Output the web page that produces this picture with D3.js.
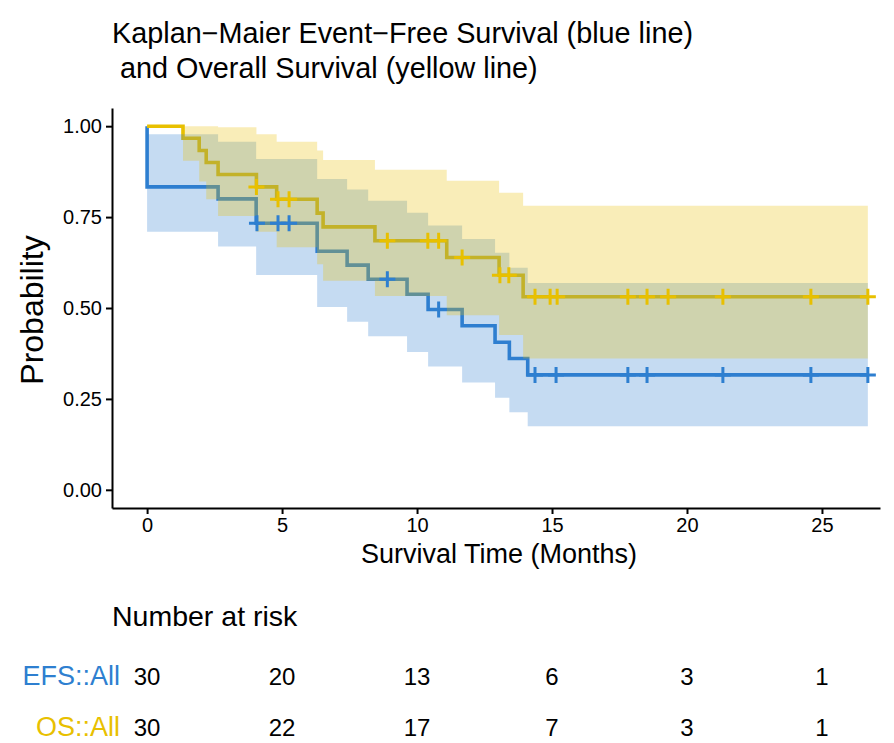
<!DOCTYPE html>
<html>
<head>
<meta charset="utf-8">
<script src="https://cdn.jsdelivr.net/npm/d3@7"></script>
<style>
body { margin: 0; background: #fff; }
text { font-family: "Liberation Sans", Arial, Helvetica, sans-serif; }
</style>
</head>
<body>
<div id="chart"></div>
<script>
// EFS (blue line): step times, KM estimate, 95% band
var efsTime  = [0, 2.63, 4.04, 6.3, 7.41, 8.19, 9.63, 10.41, 11.67, 12.89, 13.42, 14.1];
var efsSurv  = [0.833, 0.800, 0.733, 0.656, 0.618, 0.579, 0.538, 0.496, 0.451, 0.406, 0.361, 0.316];
var efsUpper = [0.978, 0.957, 0.910, 0.855, 0.826, 0.795, 0.762, 0.727, 0.690, 0.652, 0.611, 0.569];
var efsLower = [0.710, 0.669, 0.591, 0.503, 0.462, 0.422, 0.379, 0.339, 0.295, 0.253, 0.213, 0.175];
var efsCensor = [4.07, 4.85, 5.26, 8.9, 10.8, 14.37, 15.15, 17.81, 18.52, 21.33, 24.59, 26.7];

// OS (yellow line)
var osTime  = [1.33, 1.93, 2.19, 2.63, 4.05, 4.8, 6.3, 6.52, 8.44, 11.1, 13.04, 13.93];
var osSurv  = [0.967, 0.933, 0.900, 0.867, 0.833, 0.799, 0.761, 0.723, 0.685, 0.639, 0.590, 0.531];
var osUpper = [1.000, 1.000, 1.000, 0.997, 0.978, 0.957, 0.933, 0.907, 0.880, 0.850, 0.817, 0.781];
var osLower = [0.905, 0.848, 0.799, 0.753, 0.710, 0.667, 0.620, 0.575, 0.533, 0.480, 0.426, 0.361];
var osCensor = [4.05, 4.85, 5.26, 8.9, 10.4, 10.8, 11.67, 13.07, 13.4, 14.37, 14.93, 15.19, 17.81, 18.52, 19.3, 21.33, 24.59, 26.7];

var endTime = 26.7;

// number at risk table
var riskTimes = [0, 5, 10, 15, 20, 25];
var efsRisk = [30, 20, 13, 6, 3, 1];
var osRisk  = [30, 22, 17, 7, 3, 1];

var xTicks = [0, 5, 10, 15, 20, 25];
var yTicks = [0, 0.25, 0.5, 0.75, 1];

var blue = "#2E7FD0", yellow = "#E8C000";

var width = 894, height = 743;

var svg = d3.select("#chart")
    .append("svg")
    .attr("width", width)
    .attr("height", height);

var x = d3.scaleLinear().domain([-1.3, 27.15]).range([112, 880]);
var y = d3.scaleLinear().domain([-0.05, 1.05]).range([508, 108]);

// build step points starting at S=1
function steps(time, surv, upper, lower) {
    var pts = [{t: 0, s: 1, u: 1, l: 1}];
    time.forEach(function(t, i) {
        pts.push({t: t, s: surv[i], u: upper[i], l: lower[i]});
    });
    var last = pts[pts.length - 1];
    pts.push({t: endTime, s: last.s, u: last.u, l: last.l});
    return pts;
}

function survAt(pts, t) {
    var s = 1;
    pts.forEach(function(p) { if (p.t <= t) s = p.s; });
    return s;
}

var efs = steps(efsTime, efsSurv, efsUpper, efsLower);
var os = steps(osTime, osSurv, osUpper, osLower);

var line = d3.line()
    .curve(d3.curveStepAfter)
    .x(d => x(d.t))
    .y(d => y(d.s));

var band = d3.area()
    .curve(d3.curveStepAfter)
    .x(d => x(d.t))
    .y0(d => y(d.l))
    .y1(d => y(d.u));

// lines first, the bands sit on top of them
svg.append("path").datum(efs)
    .attr("d", line)
    .attr("fill", "none")
    .attr("stroke", blue)
    .attr("stroke-width", 3.6);
svg.append("path").datum(os)
    .attr("d", line)
    .attr("fill", "none")
    .attr("stroke", yellow)
    .attr("stroke-width", 3.6);

svg.append("path").datum(efs)
    .attr("d", band)
    .attr("fill", blue)
    .attr("fill-opacity", 0.28);
svg.append("path").datum(os)
    .attr("d", band)
    .attr("fill", yellow)
    .attr("fill-opacity", 0.28);

// censor marks
function censors(times, pts, col) {
    svg.append("g")
        .selectAll("path")
        .data(times)
        .enter()
        .append("path")
        .attr("transform", d => "translate(" + x(d) + "," + y(survAt(pts, d)) + ")")
        .attr("d", "M-8,0H8M0,-8V8")
        .attr("stroke", col)
        .attr("stroke-width", 3);
}
censors(efsCensor, efs, blue);
censors(osCensor, os, yellow);

// axes
var yAxis = svg.append("g")
    .attr("transform", "translate(112,0)")
    .call(d3.axisLeft(y).tickValues(yTicks).tickFormat(d3.format(".2f")).tickSize(6).tickSizeOuter(0));
var xAxis = svg.append("g")
    .attr("transform", "translate(0,508)")
    .call(d3.axisBottom(x).tickValues(xTicks).tickSize(6).tickSizeOuter(0));

[xAxis, yAxis].forEach(function(a) {
    a.attr("font-size", null).attr("font-family", null);
    a.selectAll("path, line").attr("stroke", "#000").attr("stroke-width", 2);
    a.selectAll("text")
        .style("font-size", "20px")
        .attr("fill", "#000");
});
yAxis.selectAll("text").attr("x", -10);
xAxis.selectAll("text").attr("y", 10);

// titles
svg.append("text")
    .attr("x", 112).attr("y", 43)
    .style("font-size", "28.8px")
    .text("Kaplan\u2212Maier Event\u2212Free Survival (blue line)");
svg.append("text")
    .attr("x", 112).attr("y", 78)
    .style("font-size", "28.8px")
    .attr("xml:space", "preserve")
    .style("white-space", "pre")
    .text(" and Overall Survival (yellow line)");

svg.append("text")
    .attr("transform", "translate(43,310) rotate(-90)")
    .attr("text-anchor", "middle")
    .style("font-size", "32px")
    .text("Probability");

svg.append("text")
    .attr("x", 499).attr("y", 563)
    .attr("text-anchor", "middle")
    .style("font-size", "27px")
    .text("Survival Time (Months)");

// risk table
svg.append("text")
    .attr("x", 112).attr("y", 626)
    .style("font-size", "28.5px")
    .text("Number at risk");

var rows = [
    {label: "EFS::All", col: blue, vals: efsRisk, yy: 685},
    {label: "OS::All", col: yellow, vals: osRisk, yy: 736}
];
rows.forEach(function(r) {
    svg.append("text")
        .attr("x", 120).attr("y", r.yy)
        .attr("text-anchor", "end")
        .attr("fill", r.col)
        .style("font-size", "27px")
        .text(r.label);
    svg.append("g")
        .selectAll("text")
        .data(r.vals)
        .enter()
        .append("text")
        .attr("x", (d, i) => x(riskTimes[i]))
        .attr("y", r.yy)
        .attr("text-anchor", "middle")
        .style("font-size", "24px")
        .text(d => d);
});
</script>
</body>
</html>
